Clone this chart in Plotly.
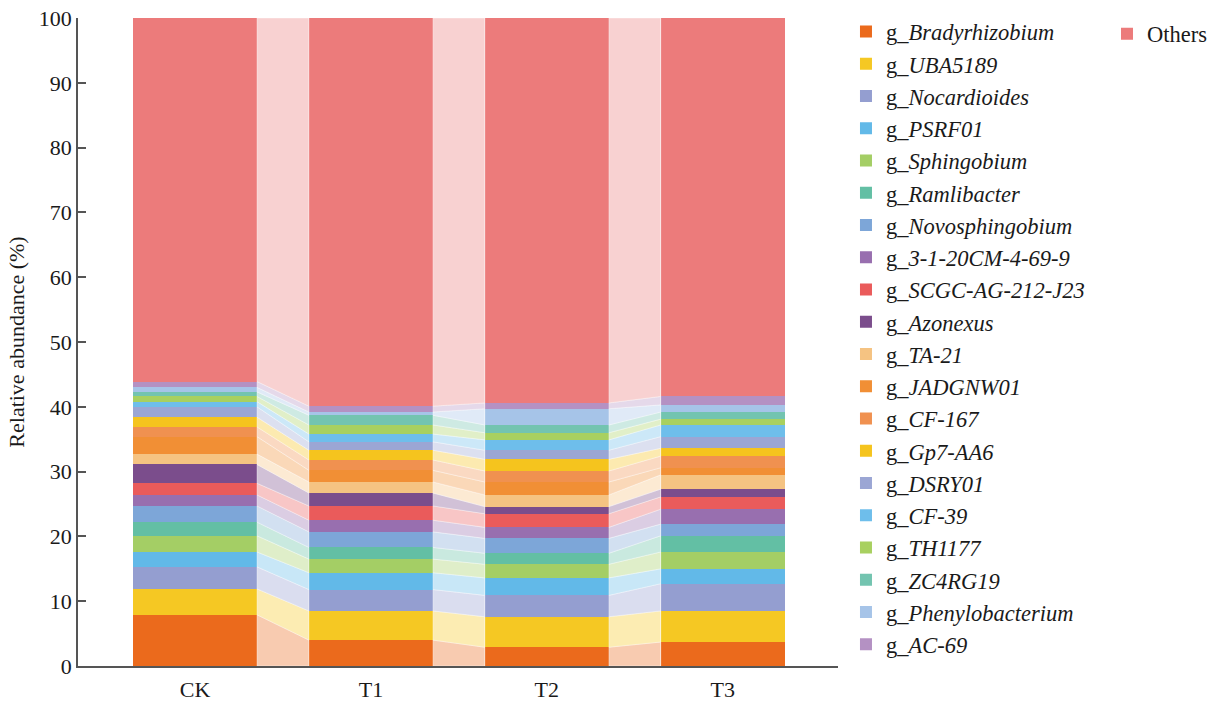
import plotly.graph_objects as go

groups = ["CK", "T1", "T2", "T3"]

genera = ["Bradyrhizobium", "UBA5189", "Nocardioides", "PSRF01", "Sphingobium",
          "Ramlibacter", "Novosphingobium", "3-1-20CM-4-69-9", "SCGC-AG-212-J23",
          "Azonexus", "TA-21", "JADGNW01", "CF-167", "Gp7-AA6", "DSRY01", "CF-39",
          "TH1177", "ZC4RG19", "Phenylobacterium", "AC-69"]

# relative abundance (%) per genus, order CK, T1, T2, T3
Bradyrhizobium = [7.9, 4.0, 2.9, 3.7]
UBA5189 = [4.0, 4.5, 4.7, 4.8]
Nocardioides = [3.4, 3.3, 3.3, 4.2]
PSRF01 = [2.3, 2.6, 2.7, 2.3]
Sphingobium = [2.5, 2.1, 2.1, 2.6]
Ramlibacter = [2.1, 1.8, 1.7, 2.5]
Novosphingobium = [2.5, 2.4, 2.3, 1.8]
CM_3_1_20 = [1.7, 1.8, 1.7, 2.3]
SCGC_AG_212_J23 = [1.8, 2.2, 2.1, 1.9]
Azonexus = [2.9, 2.0, 1.1, 1.2]
TA_21 = [1.6, 1.7, 1.8, 2.2]
JADGNW01 = [2.7, 1.8, 2.0, 1.1]
CF_167 = [1.5, 1.6, 1.7, 1.8]
Gp7_AA6 = [1.5, 1.5, 1.8, 1.2]
DSRY01 = [1.6, 1.3, 1.4, 1.8]
CF_39 = [0.8, 1.2, 1.6, 1.8]
TH1177 = [0.8, 1.4, 1.1, 0.9]
ZC4RG19 = [0.7, 1.5, 1.2, 1.1]
Phenylobacterium = [0.7, 0.5, 2.5, 1.1]
AC_69 = [0.9, 0.9, 0.9, 1.3]

values = [Bradyrhizobium, UBA5189, Nocardioides, PSRF01, Sphingobium, Ramlibacter,
          Novosphingobium, CM_3_1_20, SCGC_AG_212_J23, Azonexus, TA_21, JADGNW01,
          CF_167, Gp7_AA6, DSRY01, CF_39, TH1177, ZC4RG19, Phenylobacterium, AC_69]

colors = ["#EB6A1C", "#F5C823", "#949ED0", "#62B9E8", "#A4CE65", "#63BFA4",
          "#7DA6D8", "#986FAF", "#EA5B5B", "#7B4D8C", "#F5C382", "#F18F35",
          "#F09150", "#F5C41E", "#9BA6D4", "#6EBEEB", "#A8D060", "#73C4B0",
          "#A6C4E8", "#B491C3"]
others_color = "#EC7B7B"

Others = [round(100 - sum(v[i] for v in values), 2) for i in range(len(groups))]

all_names = ["g_<i>%s</i>" % g for g in genera] + ["Others"]
all_vals = values + [Others]
all_cols = colors + [others_color]

xpos = list(range(len(groups)))
bw = 0.705

def rgba(hexc, a):
    h = hexc.lstrip("#")
    r, g, b = int(h[0:2], 16), int(h[2:4], 16), int(h[4:6], 16)
    return "rgba(%d,%d,%d,%.2f)" % (r, g, b, a)

fig = go.Figure()

# connectors between adjacent bars
base = [0.0] * len(groups)
for k, vals in enumerate(all_vals):
    top = [base[i] + vals[i] for i in range(len(groups))]
    for i in range(len(groups) - 1):
        x1 = xpos[i] + bw / 2
        x2 = xpos[i + 1] - bw / 2
        fig.add_trace(go.Scatter(
            x=[x1, x2, x2, x1, x1],
            y=[base[i], base[i + 1], top[i + 1], top[i], base[i]],
            fill="toself", fillcolor=rgba(all_cols[k], 0.35),
            line=dict(width=0.6, color="rgba(255,255,255,0.6)"),
            mode="lines", showlegend=False, hoverinfo="skip"))
    base = top

for k, vals in enumerate(all_vals):
    is_other = (k == len(all_vals) - 1)
    fig.add_trace(go.Bar(
        x=xpos, y=vals, name=all_names[k], width=bw,
        marker=dict(color=all_cols[k], line=dict(width=0)),
        legendgroup="g%d" % k,
        legend="legend2" if is_other else "legend"))

font_family = "Liberation Serif, Times New Roman, serif"
fig.update_layout(
    barmode="stack",
    width=1224, height=701,
    margin=dict(l=78, r=386, t=18, b=35),
    plot_bgcolor="white", paper_bgcolor="white",
    font=dict(family=font_family, size=22, color="#1a1a1a"),
    legend=dict(x=1.0105, y=0.5062, xanchor="left", yanchor="middle",
                tracegroupgap=0, font=dict(size=22.5), itemwidth=30,
                maxheight=701, bgcolor="rgba(0,0,0,0)"),
    legend2=dict(x=1.4921, y=0.9753, xanchor="right", yanchor="middle",
                 font=dict(size=22.5), itemwidth=30, bgcolor="rgba(0,0,0,0)"),
    xaxis=dict(range=[-0.665, 3.655], tickvals=xpos, ticktext=groups,
               showline=True, linecolor="#555555", linewidth=1.5,
               ticks="outside", ticklen=3, tickcolor="rgba(0,0,0,0)",
               showgrid=False, zeroline=False, tickfont=dict(size=22),
               automargin=False),
    yaxis=dict(range=[0, 100], dtick=10, showline=True, linecolor="#555555",
               linewidth=1.5, ticks="inside", ticklen=8, tickcolor="#555555",
               tickwidth=1.5, showgrid=False, zeroline=False,
               tickfont=dict(size=22), automargin=False,
               title=dict(text="Relative abundance (%)", font=dict(size=22), standoff=8)),
)

fig.write_html("out.html")
